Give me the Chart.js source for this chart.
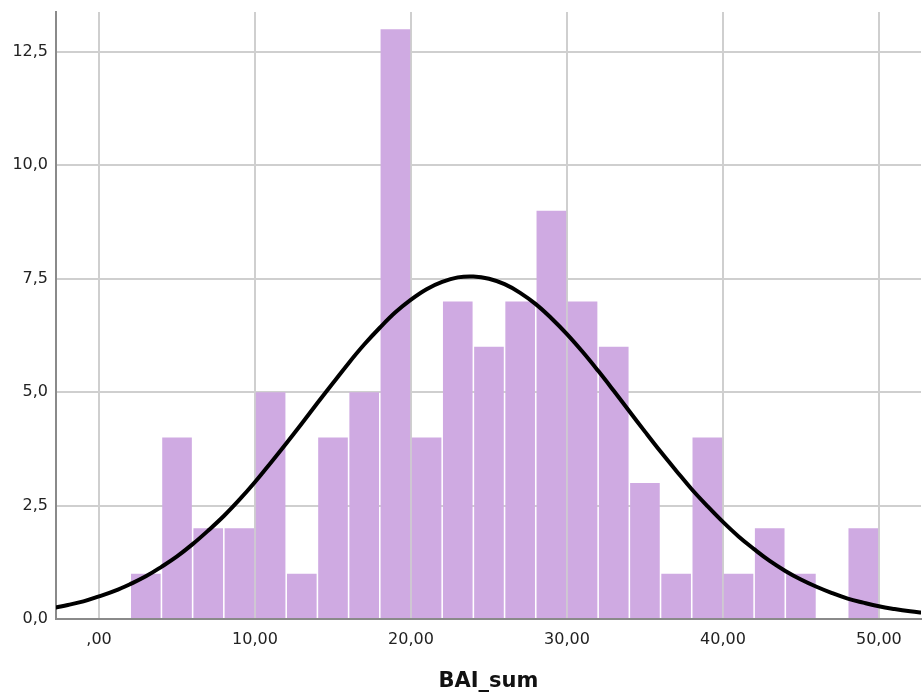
<!DOCTYPE html>
<html>
<head>
<meta charset="utf-8">
<script src="https://cdn.jsdelivr.net/npm/chart.js@4/dist/chart.umd.min.js"></script>
<style>
  html, body { margin: 0; padding: 0; background: #fff; }
  #wrap { width: 922px; height: 695px; position: relative; }
</style>
</head>
<body>
<div id="wrap"><canvas id="hist"></canvas></div>
<script>
// ---- Data ----
const binCenters = [3, 5, 7, 9, 11, 13, 15, 17, 19, 21, 23, 25, 27, 29, 31, 33, 35, 37, 39, 41, 43, 45, 47, 49];
const binCounts  = [1, 4, 2, 2, 5, 1, 4, 5, 13, 4, 7, 6, 7, 9, 7, 6, 3, 1, 4, 1, 2, 1, 0, 2];

// normal curve
const curveX = [-3, -2, -1, 0, 1, 2, 3, 4, 5, 6, 7, 8, 9, 10, 11, 12, 13, 14, 15, 16, 17, 18, 19, 20, 21, 22, 23, 24, 25, 26,
                27, 28, 29, 30, 31, 32, 33, 34, 35, 36, 37, 38, 39, 40, 41, 42, 43, 44, 45, 46, 47, 48, 49, 50, 51, 52, 53];
const curveY = [0.24, 0.31, 0.39, 0.50, 0.62, 0.77, 0.94, 1.15, 1.38, 1.65, 1.95, 2.27, 2.63, 3.02, 3.44, 3.87, 4.31, 4.76,
                5.20, 5.64, 6.05, 6.42, 6.76, 7.04, 7.27, 7.43, 7.53, 7.55, 7.50, 7.38, 7.19, 6.94, 6.63, 6.28, 5.89, 5.47,
                5.03, 4.58, 4.13, 3.69, 3.27, 2.86, 2.49, 2.14, 1.82, 1.54, 1.28, 1.06, 0.87, 0.71, 0.57, 0.45, 0.36, 0.28,
                0.22, 0.17, 0.13];

const xTicks = [0, 10, 20, 30, 40, 50];
const yTicks = [0, 2.5, 5, 7.5, 10, 12.5];
const xTitle = 'BAI_sum';

// ---- Chart ----
(function () {
    const ctx = document.getElementById('hist').getContext('2d');
    const fmtX = v => (v === 0 ? ',00' : v.toFixed(2).replace('.', ','));
    const fmtY = v => v.toFixed(1).replace('.', ',');
    const tickFont = { family: 'DejaVu Sans', size: 16 };

    new Chart(ctx, {
        data: {
            datasets: [{
                type: 'line',
                data: curveX.map((x, i) => ({ x: x, y: curveY[i] })),
                borderColor: '#000',
                borderWidth: 4,
                pointRadius: 0,
                tension: 0.4,
                fill: false,
                order: 0,
            }, {
                type: 'bar',
                data: binCenters.map((x, i) => ({ x: x, y: binCounts[i] })),
                backgroundColor: '#cfaae2',
                borderWidth: 0,
                barPercentage: 0.95,
                categoryPercentage: 1,
                order: 1,
            }]
        },
        options: {
            responsive: true,
            maintainAspectRatio: false,
            animation: false,
            layout: { padding: { top: 12, right: 1, left: 0, bottom: 0 } },
            plugins: { legend: { display: false }, tooltip: { enabled: false } },
            scales: {
                x: {
                    type: 'linear',
                    min: -2.76,
                    max: 52.7,
                    offset: false,
                    afterBuildTicks: s => { s.ticks = xTicks.map(v => ({ value: v })); },
                    afterFit: s => { s.height = 76; s.paddingLeft = 0; s.paddingRight = 0; },
                    grid: { color: '#cfcfcf', lineWidth: 2, drawTicks: false, offset: false },
                    border: { color: '#8a8a8a', width: 2 },
                    ticks: { color: '#222', font: tickFont, padding: 11, maxRotation: 0, callback: fmtX },
                    title: {
                        display: true,
                        text: xTitle,
                        color: '#111',
                        font: { family: 'DejaVu Sans', size: 21, weight: 'bold', lineHeight: 1.0 },
                        padding: { top: 0, bottom: 3 },
                    },
                },
                y: {
                    min: 0,
                    max: 13.38,
                    afterBuildTicks: s => { s.ticks = yTicks.map(v => ({ value: v })); },
                    afterFit: s => { s.width = 56; s.paddingTop = 0; s.paddingBottom = 0; },
                    grid: { color: '#cfcfcf', lineWidth: 2, drawTicks: false },
                    border: { color: '#8a8a8a', width: 2 },
                    ticks: { color: '#222', font: tickFont, padding: 8, callback: fmtY },
                },
            },
        },
    });
})();
</script>
</body>
</html>
